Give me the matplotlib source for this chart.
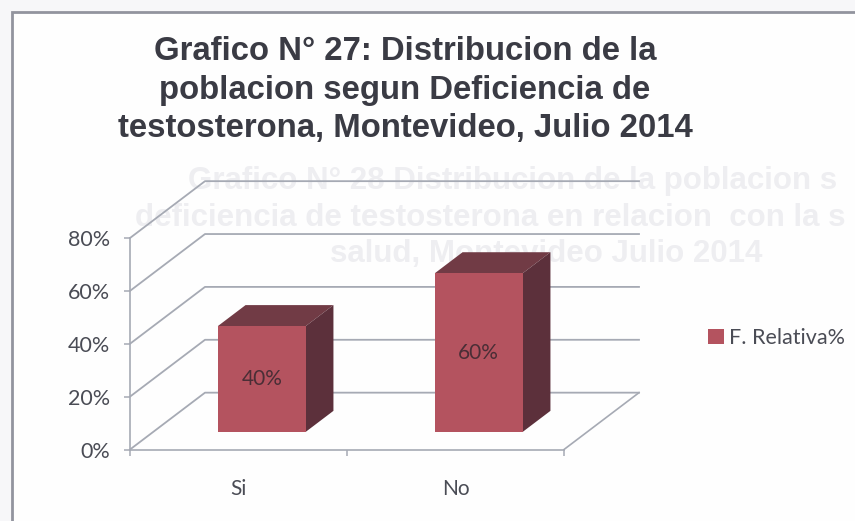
import matplotlib
matplotlib.use("Agg")
import matplotlib.pyplot as plt
from matplotlib.patches import Polygon, Patch, Rectangle

categories = ["Si", "No"]
values = [40, 60]
value_labels = ["40%", "60%"]
y_ticks = [0, 20, 40, 60, 80]
y_tick_labels = ["0%", "20%", "40%", "60%", "80%"]
series_name = "F. Relativa%"
title = "Grafico N° 27: Distribucion de la\npoblacion segun Deficiencia de\ntestosterona, Montevideo, Julio 2014"
ghost_lines = ["Grafico N° 28 Distribucion de la poblacion s",
               "deficiencia de testosterona en relacion  con la s",
               "salud, Montevideo Julio 2014"]

W, H = 855, 521
FRONT, TOP, SIDE = "#B4535F", "#713B45", "#5C303B"
GRID = "#A6AAB4"
TXT = "#4A4C55"

fig = plt.figure(figsize=(W / 100, H / 100), dpi=100, facecolor="#F7F7F9")

bg = fig.add_axes([0, 0, 1, 1])
bg.set_xlim(0, W); bg.set_ylim(H, 0); bg.axis("off")
bg.add_patch(Rectangle((12, 12), W, H, fc="#FEFEFE", ec="#92949E", lw=2))
for s, (gx, gy) in zip(ghost_lines, [(188, 181), (135, 218), (330, 254)]):
    bg.text(gx, gy, s, ha="left", va="center", fontsize=22.5, fontweight="bold",
            family="Liberation Sans", color="#EEEEF1", clip_on=True)
bg.text(405, 90, title, ha="center", va="center", fontsize=23.7, fontweight="bold",
        family="Liberation Sans", color="#3A3B44", linespacing=1.3)

ax = fig.add_axes([130 / W, 1 - 449.5 / H, 434 / W, 211.5 / H])
ax.patch.set_alpha(0)
ax.set_xlim(0, len(categories))
ax.set_ylim(0, 80)

# oblique depth of the floor, in data units
DX, DY = 0.3456, 21.5
BAR_W = 0.405
D0, D1 = 0.31, 0.68


def proj(x, y, d):
    return (x + d * DX, y + d * DY)


for v in y_ticks:
    ax.plot(*zip(proj(0, v, 0), proj(0, v, 1), proj(len(categories), v, 1)),
            color=GRID, lw=1.3, clip_on=False, zorder=1)
ax.plot(*zip(proj(len(categories), 0, 0), proj(len(categories), 0, 1)),
        color=GRID, lw=1.2, clip_on=False, zorder=1)

for i, (v, lab) in enumerate(zip(values, value_labels)):
    c = i + 0.5
    x0, x1 = c - BAR_W / 2, c + BAR_W / 2
    ax.add_patch(Polygon([proj(x0, v, D0), proj(x1, v, D0), proj(x1, v, D1), proj(x0, v, D1)],
                         fc=TOP, ec="none", clip_on=False, zorder=3))
    ax.add_patch(Polygon([proj(x1, 0, D0), proj(x1, v, D0), proj(x1, v, D1), proj(x1, 0, D1)],
                         fc=SIDE, ec="none", clip_on=False, zorder=3))
    ax.add_patch(Polygon([proj(x0, 0, D0), proj(x1, 0, D0), proj(x1, v, D0), proj(x0, v, D0)],
                         fc=FRONT, ec="none", clip_on=False, zorder=4))
    px, py = proj(c, v / 2, D0)
    ax.text(px, py, lab, ha="center", va="center", fontsize=15, family="Lato",
            color="#4A2E36", zorder=5)

for s in ("top", "right"):
    ax.spines[s].set_visible(False)
for s in ("left", "bottom"):
    ax.spines[s].set_color(GRID)
    ax.spines[s].set_linewidth(1.2)
ax.set_yticks(y_ticks, y_tick_labels, family="Lato", fontsize=15.5, color=TXT)
ax.set_xticks(range(len(categories) + 1), [""] * (len(categories) + 1))
ax.set_xticks([i + 0.5 for i in range(len(categories))], categories, minor=True,
              family="Lato", fontsize=15, color=TXT)
ax.tick_params(axis="y", length=4.5, width=1.1, color=GRID, pad=10)
ax.tick_params(axis="x", which="major", length=4.5, width=1.1, color=GRID)
ax.tick_params(axis="x", which="minor", length=0, pad=21)

fig.legend(handles=[Patch(fc=FRONT, ec="none", label=series_name)],
           loc="center left", bbox_to_anchor=(708 / W, 1 - 338 / H), frameon=False,
           handlelength=0.72, handleheight=0.72, handletextpad=0.25, borderpad=0,
           borderaxespad=0, prop={"family": "Lato", "size": 15.5}, labelcolor=TXT)

fig.savefig("out.png", dpi=100, facecolor=fig.get_facecolor())
